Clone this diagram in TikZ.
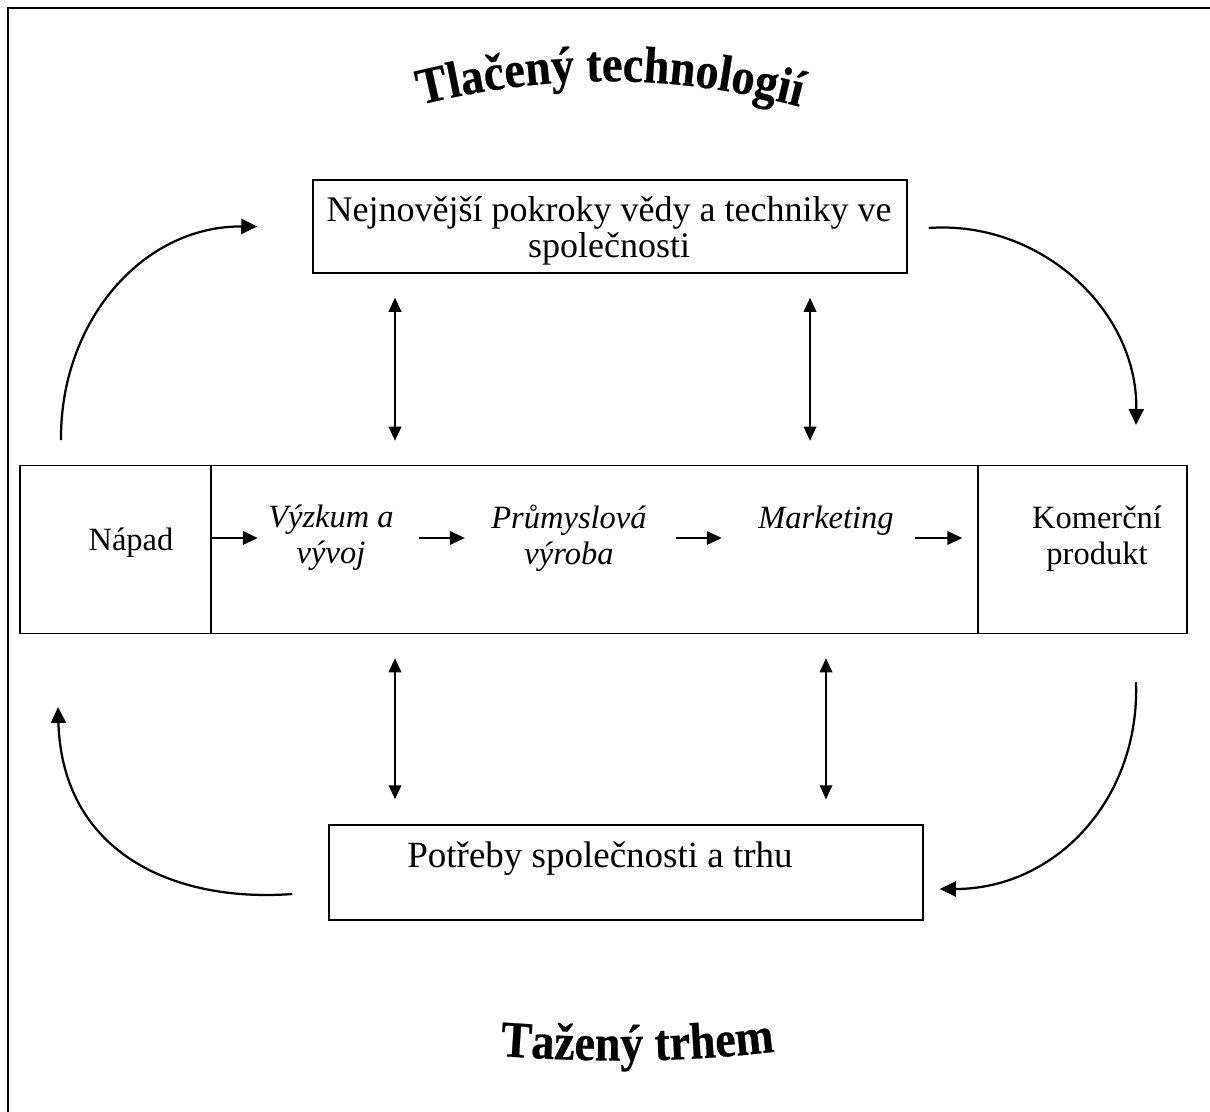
\documentclass[tikz,border=0pt]{standalone}
\usepackage{fontspec}
\setmainfont{Liberation Serif}
\newfontfamily\headfont{Liberation Serif}[FakeStretch=0.9,FakeBold=0.5]
\usetikzlibrary{arrows.meta,decorations.text,calc}

\begin{document}
\begin{tikzpicture}[x=0.4pt,y=-0.4pt,
  box/.style={draw,line width=0.6pt,inner sep=0pt},
  lbl/.style={align=center,inner sep=0pt,font=\fontsize{13}{14.5}\selectfont},
  blbl/.style={align=center,inner sep=0pt,font=\fontsize{14.4}{14.2}\selectfont},
  ilbl/.style={align=center,inner sep=0pt,font=\fontsize{13}{14.5}\selectfont\itshape},
  harr/.style={-{Triangle[length=6pt,width=5.4pt]},line width=0.8pt},
  darr/.style={{Triangle[length=5.6pt,width=5pt]}-{Triangle[length=5.6pt,width=5pt]},line width=0.75pt},
  carr/.style={-{Triangle[length=6.4pt,width=6pt]},line width=0.9pt},
  titlepath/.style={decorate,decoration={text along path,text align=center,
     text={|\headfont\bfseries\fontsize{20.5}{24}\selectfont|#1}}},
]
\useasboundingbox (0,0) rectangle (1210,1111);

% page frame (left and top edges)
\draw[line width=1.1pt] (8,1120) -- (8,8) -- (1220,8);

% arched headings
\path[titlepath={Tlačený technologií}]
  (408,108) .. controls (545,72) and (675,72) .. (812,110);
\path[titlepath={Tažený trhem}]
  (488,1055) .. controls (590,1063) and (690,1063) .. (787,1050);

% boxes
\node[box,minimum width=237.6pt,minimum height=37.2pt] (top) at (610,226.5) {};
\node[box,minimum width=76.4pt,minimum height=67.2pt] (napcell) at (115.5,549.5) {};
\node[box,minimum width=306.8pt,minimum height=67.2pt] (midcell) at (594.5,549.5) {};
\node[box,minimum width=83.6pt,minimum height=67.2pt] (kocell) at (1082.5,549.5) {};
\node[box,minimum width=237.6pt,minimum height=38pt] (bot) at (626,872.5) {};

% texts
\node[blbl] (toptxt) at (609,231) {Nejnovější pokroky vědy a techniky ve\\společnosti};
\node[lbl] (napad) at (131,543) {Nápad};
\node[ilbl] (vyzkum) at (331,538) {Výzkum a\\vývoj};
\node[ilbl] (prum) at (569,538) {Průmyslová\\výroba};
\node[ilbl] (mark) at (826,521) {Marketing};
\node[lbl] (komer) at (1097,539) {Komerční\\produkt};
\node[blbl,font=\fontsize{14.8}{14.2}\selectfont] (potreby) at (600,859) {Potřeby společnosti a trhu};

% process chain
\draw[harr] (napcell.east |- vyzkum) -- ($(vyzkum.west)+(-10,0)$);
\draw[harr] ($(vyzkum.east)+(25,0)$) -- ($(prum.west)+(-26,0)$);
\draw[harr] ($(prum.east)+(29,0)$) -- ($(mark.west |- prum)+(-36,0)$);
\draw[harr] ($(mark.east |- prum)+(21,0)$) -- ($(kocell.west |- prum)+(-15,0)$);

% two-way links
\coordinate (va) at (395,0);
\coordinate (vb) at (810,0);
\coordinate (vc) at (826,0);
\draw[darr,shorten <=9.6pt,shorten >=9.6pt] (top.south -| va) -- (midcell.north -| va);
\draw[darr,shorten <=9.6pt,shorten >=9.6pt] (top.south -| vb) -- (midcell.north -| vb);
\draw[darr,shorten <=9.6pt,shorten >=10pt] (midcell.south -| va) -- (bot.north -| va);
\draw[darr,shorten <=9.6pt,shorten >=10pt] (midcell.south -| vc) -- (bot.north -| vc);

% outer loops
\coordinate (tlS) at (61,440);
\coordinate (trE) at (1136,425);
\coordinate (brS) at (1136,682);
\coordinate (blE) at (58,707);
\draw[carr] (tlS) .. controls (60,323) and (141,226) .. ($(top.west)+(-55,0)$);
\draw[carr] ($(top.east)+(21,1.5)$) .. controls (1040,220) and (1138,310) .. (trE);
\draw[carr] (brS) .. controls (1140,800) and (1055,889) .. ($(bot.east)+(16,16.5)$);
\draw[carr] ($(bot.west)+(-36,21.5)$) .. controls (170,903) and (62,850) .. (blE);
\end{tikzpicture}
\end{document}
